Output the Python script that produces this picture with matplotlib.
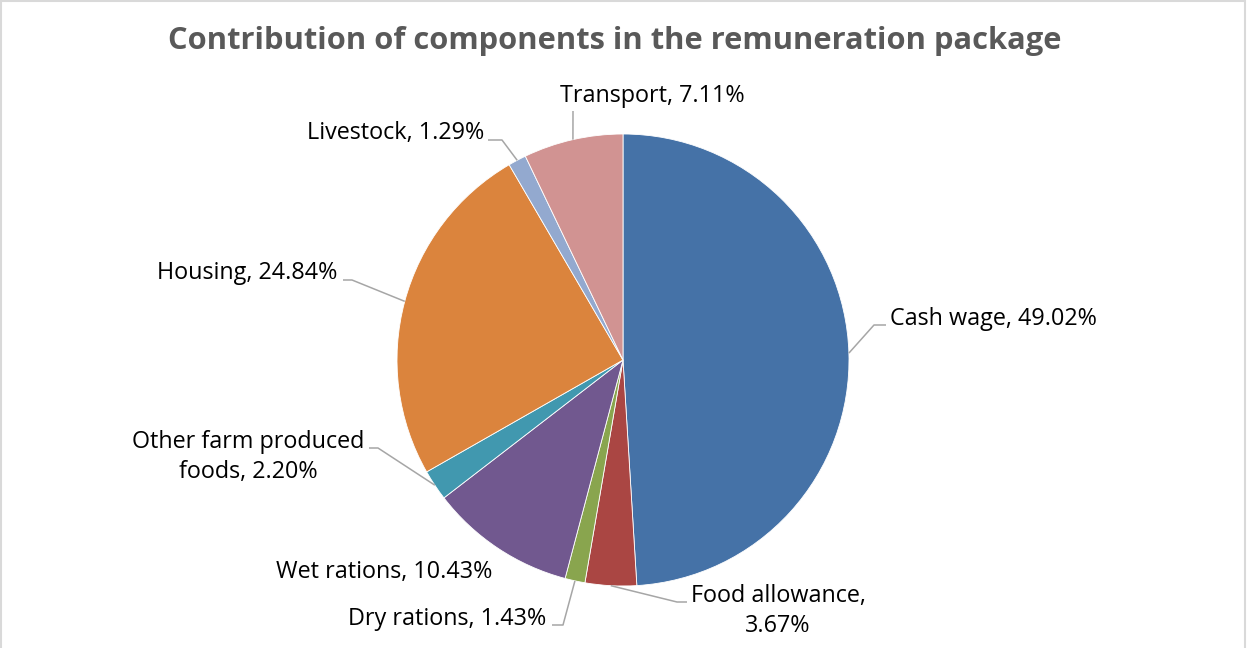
import numpy as np
import matplotlib.pyplot as plt
from matplotlib.patches import Rectangle

# === Data ===
labels = ["Cash wage", "Food allowance", "Dry rations", "Wet rations",
          "Other farm produced foods", "Housing", "Livestock", "Transport"]
shares = [49.02, 3.67, 1.43, 10.43, 2.20, 24.84, 1.29, 7.11]
colors = ["#4572A7", "#AA4643", "#89A54E", "#71588F",
          "#4198AF", "#DB843D", "#93A9CF", "#D19392"]

# label text as shown on the chart (line breaks like Excel)
label_text = ["Cash wage, 49.02%", "Food allowance,\n3.67%", "Dry rations, 1.43%",
              "Wet rations, 10.43%", "Other farm produced\nfoods, 2.20%",
              "Housing, 24.84%", "Livestock, 1.29%", "Transport, 7.11%"]

# === Layout (pixel coords, y measured from top) ===
W, H = 1249, 648
cx, cy, rad = 623, 360, 226

# text anchor (x, y, ha) and leader-line start points for each label
text_pos = [(890, 319, 'left'), (778, 611, 'center'), (546, 619, 'right'),
            (492, 572, 'right'), (248, 457, 'center'), (337, 273, 'right'),
            (484, 133, 'right'), (652, 96, 'center')]
leader_pts = [[(886, 325), (874, 325)],
              [(687, 602), (677, 602)],
              [(552, 625), (563, 625)],
              None,
              [(369, 448), (378, 448)],
              [(343, 280), (352, 280)],
              [(488, 140), (502, 140)],
              [(573, 111)]]

FONT = ['Open Sans', 'DejaVu Sans']
plt.rcParams['font.family'] = FONT


def P(x, y):
    return x, H - y


fig = plt.figure(figsize=(W / 100, H / 100), dpi=100)
ax = fig.add_axes([0, 0, 1, 1])

ax.pie(shares, colors=colors, startangle=90, counterclock=False,
       center=P(cx, cy), radius=rad, frame=True,
       wedgeprops=dict(linewidth=0.6, edgecolor='white'))

# leader lines end on the middle of each wedge's arc
cum = np.cumsum([0] + shares)
for i, txt in enumerate(label_text):
    x, y, ha = text_pos[i]
    ax.text(*P(x, y), txt, ha=ha, va='center', fontsize=16.8,
            color='black', linespacing=1.35)
    if leader_pts[i] is None:
        continue
    mid = (cum[i] + cum[i + 1]) / 2 / cum[-1]
    ang = np.deg2rad(90 - 360 * mid)
    ex = cx + rad * np.cos(ang)
    ey = cy - rad * np.sin(ang)
    pts = leader_pts[i] + [(ex, ey)]
    xs = [p[0] for p in pts]
    ys = [H - p[1] for p in pts]
    ax.plot(xs, ys, color='#A6A6A6', lw=1.1, solid_capstyle='butt')

ax.text(*P(615, 41), "Contribution of components in the remuneration package",
        ha='center', va='center', fontsize=22.2, fontweight='bold', color='#595959')

ax.set_xlim(0, W)
ax.set_ylim(0, H)
ax.set_aspect('equal')
ax.set_axis_off()

# chart area border
fig.add_artist(Rectangle((0.001, -0.01), 0.996, 1.008, transform=fig.transFigure,
                         fill=False, edgecolor='#D9D9D9', lw=1.5))

plt.savefig("out.png", dpi=100)
